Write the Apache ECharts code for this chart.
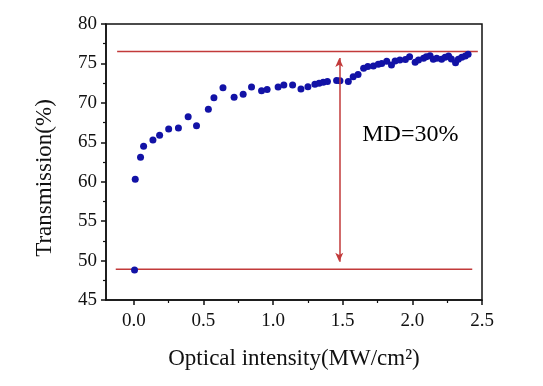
<!DOCTYPE html>
<html>
<head>
<meta charset="utf-8">
<script src="https://cdn.jsdelivr.net/npm/echarts@6/dist/echarts.min.js"></script>
<style>
html,body{margin:0;padding:0;background:#fff;}
#chart{width:543px;height:386px;}
</style>
</head>
<body>
<div id="chart"></div>
<script>
// Measured points: optical intensity (MW/cm^2) and transmission (%)
var intensity = [0.005, 0.01, 0.048, 0.07, 0.137, 0.185, 0.25, 0.32, 0.39, 0.45, 0.535, 0.575, 0.64, 0.72, 0.785, 0.845, 0.917, 0.957, 1.036, 1.077, 1.14, 1.2, 1.25, 1.3, 1.33, 1.36, 1.39, 1.456, 1.48, 1.54, 1.575, 1.61, 1.65, 1.68, 1.72, 1.755, 1.78, 1.816, 1.85, 1.876, 1.91, 1.95, 1.98, 2.02, 2.044, 2.08, 2.1, 2.127, 2.15, 2.175, 2.21, 2.235, 2.26, 2.28, 2.31, 2.33, 2.355, 2.38, 2.4];
var transmission = [48.8, 60.3, 63.1, 64.5, 65.3, 65.9, 66.7, 66.8, 68.25, 67.1, 69.2, 70.65, 71.9, 70.7, 71.1, 72.0, 71.55, 71.7, 72.0, 72.25, 72.25, 71.76, 72.05, 72.35, 72.5, 72.6, 72.7, 72.85, 72.8, 72.7, 73.3, 73.6, 74.4, 74.6, 74.67, 74.9, 75.0, 75.27, 74.8, 75.3, 75.43, 75.5, 75.85, 75.14, 75.43, 75.65, 75.85, 75.98, 75.52, 75.65, 75.52, 75.78, 75.94, 75.56, 75.1, 75.52, 75.78, 75.94, 76.15];
// Reference lines
var topLineX = [-0.12, 2.47];
var topLineY = 76.5;
var bottomLineX = [-0.13, 2.43];
var bottomLineY = 48.9;
var arrowX = 1.475;
var arrowY = [75.7, 49.85];
var annotText = 'MD=30%';
var annotPos = [1.64, 65.9];
// Axes
var xMajor = [0, 0.5, 1.0, 1.5, 2.0, 2.5];
var xMinor = [0.25, 0.75, 1.25, 1.75, 2.25];
var xRange = [-0.2, 2.5];
var yRange = [45, 80];
var yStep = 5;

var pts = intensity.map(function (x, i) { return [x, transmission[i]]; });
var red = '#c23a3a';
var font = '"Liberation Serif", "Times New Roman", serif';

var chart = echarts.init(document.getElementById('chart'), null, {renderer: 'canvas'});
chart.setOption({
  backgroundColor: '#fff',
  animation: false,
  grid: {left: 106, right: 61, top: 24, bottom: 86, show: true, borderColor: '#111', borderWidth: 1.5, backgroundColor: 'transparent'},
  xAxis: [{
    type: 'value', min: xRange[0], max: xRange[1],
    name: 'Optical intensity(MW/cm²)', nameLocation: 'middle', nameGap: 47,
    nameTextStyle: {fontFamily: font, fontSize: 23, color: '#111'},
    axisLine: {show: true, onZero: false, lineStyle: {color: '#111', width: 1.5}},
    axisTick: {show: true, customValues: xMajor, length: 5, lineStyle: {color: '#111', width: 1.5}},
    axisLabel: {show: true, customValues: xMajor, margin: 12, fontFamily: font, fontSize: 19, color: '#111',
      formatter: function (v) { return v.toFixed(1); }},
    splitLine: {show: false}
  }, {
    type: 'value', min: xRange[0], max: xRange[1], position: 'bottom',
    axisLine: {show: false, onZero: false},
    axisTick: {show: true, customValues: xMinor, length: 3, lineStyle: {color: '#111', width: 1.2}},
    axisLabel: {show: false},
    splitLine: {show: false}
  }],
  yAxis: {
    type: 'value', min: yRange[0], max: yRange[1], interval: yStep,
    name: 'Transmission(%)', nameLocation: 'middle', nameGap: 50,
    nameTextStyle: {fontFamily: font, fontSize: 23, color: '#111', padding: [0, 32, 0, 0]},
    axisLine: {show: true, onZero: false, lineStyle: {color: '#111', width: 1.5}},
    axisTick: {show: true, length: 5, lineStyle: {color: '#111', width: 1.5}},
    minorTick: {show: true, splitNumber: 2, length: 3, lineStyle: {color: '#111', width: 1.2}},
    axisLabel: {margin: 9, fontFamily: font, fontSize: 19, color: '#111'},
    splitLine: {show: false}
  },
  series: [{
    type: 'line', data: topLineX.map(function (x) { return [x, topLineY]; }),
    symbol: 'none', lineStyle: {color: red, width: 1.5}, silent: true, z: 1
  }, {
    type: 'line', data: bottomLineX.map(function (x) { return [x, bottomLineY]; }),
    symbol: 'none', lineStyle: {color: red, width: 1.5}, silent: true, z: 1
  }, {
    type: 'scatter', data: pts, symbolSize: 7,
    itemStyle: {color: '#1212a6', opacity: 1}, z: 3
  }, {
    type: 'line', data: [], silent: true,
    markLine: {
      silent: true, symbol: ['arrow', 'arrow'], symbolSize: [6, 9],
      lineStyle: {color: red, width: 1.5, type: 'solid'},
      label: {show: false},
      data: [[{coord: [arrowX, arrowY[0]]}, {coord: [arrowX, arrowY[1]]}]]
    }
  }, {
    type: 'scatter', data: [annotPos], symbolSize: 0, silent: true,
    itemStyle: {opacity: 1},
    label: {show: true, position: 'right', distance: 0, formatter: annotText, opacity: 1,
      fontFamily: font, fontSize: 24, color: '#000'}
  }]
});
</script>
</body>
</html>
